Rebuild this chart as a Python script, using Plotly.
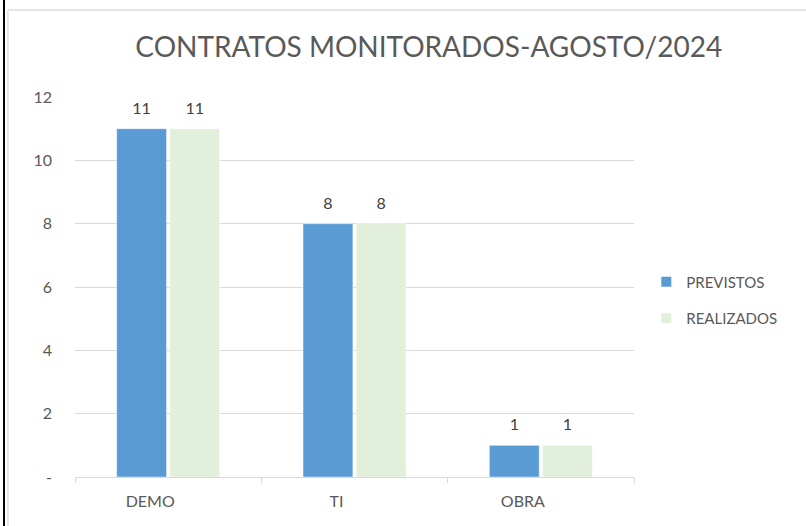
import plotly.graph_objects as go

categorias = ["DEMO", "TI", "OBRA"]
previstos = [11, 8, 1]
realizados = [11, 8, 1]
y_ticks = [0, 2, 4, 6, 8, 10, 12]
y_ticktext = ["-", "2", "4", "6", "8", "10", "12"]

FONT = "Lato"
CINZA = "#595959"

fig = go.Figure()
series = [("PREVISTOS", previstos, "#5B9BD5"), ("REALIZADOS", realizados, "#E2EFDA")]
for nome, valores, cor in series:
    fig.add_trace(go.Bar(
        name=nome, x=categorias, y=valores, offsetgroup=nome,
        marker=dict(color=cor, line=dict(color="#FFFFFF", width=0.5)),
        legendgroup=nome,
    ))
    # rótulos de dados: marcador invisível para afastar o texto da barra
    fig.add_trace(go.Scatter(
        x=categorias, y=valores, offsetgroup=nome, mode="markers+text",
        text=[str(v) for v in valores], textposition="top center",
        textfont=dict(size=16, color="#404040", family=FONT),
        marker=dict(size=16, opacity=0), showlegend=False, hoverinfo="skip",
        cliponaxis=False,
    ))

fig.update_layout(
    width=806, height=526,
    margin=dict(l=75, r=172, t=97, b=49, autoexpand=False),
    paper_bgcolor="white", plot_bgcolor="white",
    barmode="group", bargap=0.43, bargroupgap=0.06, scattermode="group",
    font=dict(family=FONT, color=CINZA, size=16),
    title=dict(text="CONTRATOS MONITORADOS-AGOSTO/2024",
               x=0.532, xanchor="center", y=0.91, yanchor="middle",
               font=dict(size=28, color=CINZA, family=FONT)),
    legend=dict(x=1.022, xanchor="left", y=0.466, yanchor="middle",
                font=dict(size=15, color=CINZA), tracegroupgap=14,
                itemsizing="constant"),
    shapes=[
        dict(type="line", xref="paper", yref="paper", x0=-0.127, x1=-0.127,
             y0=-0.2, y1=1.3, line=dict(color="black", width=2)),
        dict(type="line", xref="paper", yref="paper", x0=-0.12, x1=-0.12,
             y0=-0.2, y1=1.229, line=dict(color="#E4E4EE", width=2)),
        dict(type="line", xref="paper", yref="paper", x0=-0.12, x1=1.4,
             y0=1.229, y1=1.229, line=dict(color="#E4E4EE", width=2)),
    ],
)
fig.update_xaxes(
    showline=True, linecolor="#D9D9D9", linewidth=1,
    ticks="outside", tickson="boundaries", ticklen=5, tickcolor="#D9D9D9",
    tickfont=dict(size=16, color=CINZA), showgrid=False, automargin=False,
    ticklabelstandoff=10, ticklabelshift=-18,
)
fig.update_yaxes(
    range=[0, 12], tickvals=y_ticks, ticktext=y_ticktext,
    showgrid=True, gridcolor="#D9D9D9", gridwidth=1, zeroline=False,
    tickfont=dict(size=16, color=CINZA), ticklabelstandoff=22, automargin=False,
)

fig.write_html("out.html", config={"displayModeBar": False},
               post_script="document.body.style.margin='0';")
